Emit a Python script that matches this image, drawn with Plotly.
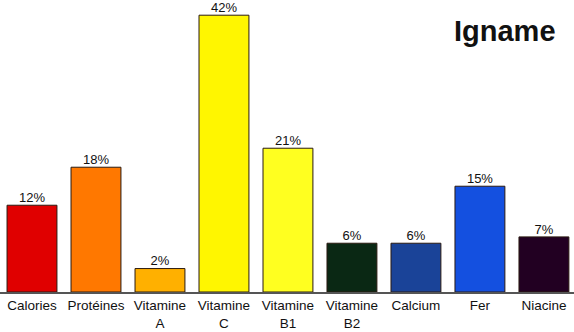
import plotly.graph_objects as go

categories = ["Calories", "Protéines", "Vitamine<br>A", "Vitamine<br>C", "Vitamine<br>B1",
              "Vitamine<br>B2", "Calcium", "Fer", "Niacine"]
values = [12, 18, 2, 42, 21, 6, 6, 15, 7]
labels = [f"{v}%" for v in values]
colors = ["#e00000", "#ff7800", "#ffb000", "#fff600", "#ffff20",
          "#0a2814", "#1a4398", "#1450e0", "#220022"]

BASE = -1.7
xs = list(range(len(categories)))
fig = go.Figure()
fig.add_trace(go.Bar(
    x=xs, y=[v - BASE for v in values], base=BASE,
    marker=dict(color=colors, line=dict(color="#2a1a10", width=1)),
    width=0.78, hoverinfo="skip",
))
fig.add_trace(go.Scatter(
    x=xs, y=values, mode="text", text=labels, textposition="top center",
    cliponaxis=False,
    textfont=dict(family="Liberation Sans, Arial", size=13, color="#111"),
))
fig.update_layout(
    width=574, height=332,
    margin=dict(l=0, r=0, t=0, b=40),
    paper_bgcolor="white", plot_bgcolor="white",
    showlegend=False,
    font=dict(family="Liberation Sans, Arial", size=13, color="#111"),
    xaxis=dict(tickmode="array", tickvals=xs, ticktext=categories,
               range=[-0.5, 8.47], showgrid=False, zeroline=False,
               showline=True, linecolor="#555", linewidth=1.5, ticks="",
               tickfont=dict(size=13.5)),
    yaxis=dict(range=[BASE, 44.4], visible=False),
    annotations=[dict(text="<b>Igname</b>", x=505/574, y=1 - 31/292, xref="paper", yref="paper",
                      xanchor="center", yanchor="middle", showarrow=False,
                      font=dict(family="Liberation Sans, Arial", size=29, color="#111"))],
)
fig.write_html("out.html")
